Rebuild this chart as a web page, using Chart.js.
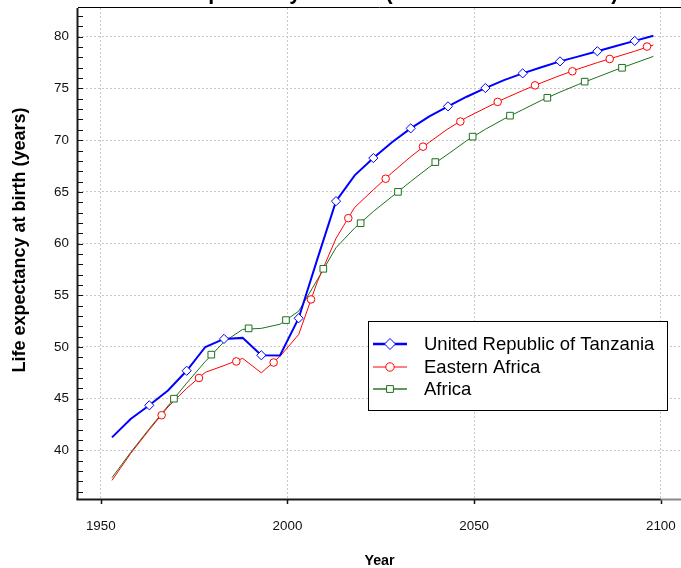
<!DOCTYPE html>
<html>
<head>
<meta charset="utf-8">
<title>Life expectancy at birth</title>
<script src="https://cdn.jsdelivr.net/npm/chart.js@4.4.0/dist/chart.umd.min.js"></script>
<style>
  html, body { margin: 0; padding: 0; background: #fff; }
</style>
</head>
<body>
<canvas id="myChart" width="681" height="568"></canvas>
<script>
// values, one point every 5 years
const years = [1953, 1958, 1963, 1968, 1973, 1978, 1983, 1988, 1993, 1998,
               2003, 2008, 2013, 2018, 2023, 2028, 2033, 2038, 2043, 2048,
               2053, 2058, 2063, 2068, 2073, 2078, 2083, 2088, 2093, 2098];
const tanzania = [41.26, 43.04, 44.36, 45.8, 47.7, 50.0, 50.78, 50.88, 49.2, 49.17,
                  52.78, 58.5, 64.1, 66.6, 68.27, 69.8, 71.14, 72.3, 73.27, 74.2,
                  75.04, 75.8, 76.46, 77.05, 77.62, 78.1, 78.6, 79.1, 79.6, 80.1];
const easternAfrica = [37.1, 39.7, 42.0, 44.2, 46.0, 47.55, 48.2, 48.9, 47.5, 49.1,
                       51.2, 56.3, 60.5, 63.5, 65.2, 66.85, 68.4, 69.8, 71.1, 72.2,
                       73.1, 74.0, 74.8, 75.55, 76.25, 76.9, 77.5, 78.05, 78.6, 79.2];
const africa = [37.36, 39.8, 42.1, 44.3, 46.5, 48.6, 50.5, 51.7, 51.8, 52.2,
                53.46, 56.5, 59.6, 61.5, 63.1, 64.55, 66.0, 67.4, 68.65, 69.95,
                71.05, 72.05, 72.95, 73.85, 74.65, 75.4, 76.1, 76.8, 77.45, 78.1];

// the markers sit at their own (staggered) places on the lines
const tanzaniaMarkYears = [1963, 1973, 1983, 1993, 2003, 2013, 2023, 2033, 2043, 2053, 2063, 2073, 2083, 2093];
const tanzaniaMarks = [44.36, 47.7, 50.78, 49.2, 52.78, 64.1, 68.27, 71.14, 73.27, 75.04, 76.46, 77.62, 78.6, 79.6];
const easternMarkYears = [1966.3, 1976.3, 1986.3, 1996.3, 2006.3, 2016.3, 2026.3, 2036.3, 2046.3, 2056.3, 2066.3, 2076.3, 2086.3, 2096.3];
const easternMarks = [43.4, 47.0, 48.6, 48.5, 54.6, 62.46, 66.27, 69.37, 71.8, 73.7, 75.3, 76.66, 77.85, 79.05];
const africaMarkYears = [1969.6, 1979.6, 1989.6, 1999.6, 2009.6, 2019.6, 2029.6, 2039.6, 2049.6, 2059.6, 2069.6, 2079.6, 2089.6];
const africaMarks = [45.0, 49.26, 51.8, 52.6, 57.56, 61.97, 65.0, 67.88, 70.34, 72.37, 74.1, 75.66, 77.0];

const names = ['United Republic of Tanzania', 'Eastern Africa', 'Africa'];
const xTicks = [1950, 2000, 2050, 2100];
const yTicks = [40, 45, 50, 55, 60, 65, 70, 75, 80];
const chartTitle = 'Life expectancy at birth (both sexes combined)';
const xTitle = 'Year';
const yTitle = 'Life expectancy at birth (years)';

const FONT = "'Liberation Sans', Arial, sans-serif";
const BLUE = '#0000ff', RED = '#ff0000', GREEN = '#1d701d';

function pts(xs, ys) {
  return xs.map((x, i) => ({ x: x, y: ys[i] }));
}

// legend styles, same order as names
const legendStyle = [
  { color: BLUE, line: BLUE, width: 2.5, style: 'rectRot', r: 5.5 },
  { color: RED, line: RED, width: 1, style: 'circle', r: 4.2 },
  { color: GREEN, line: '#5d9a5d', width: 2, style: 'rect', r: 4.8 }
];

const decorations = {
  id: 'decorations',
  afterDraw(chart) {
    const ctx = chart.ctx;
    const a = chart.chartArea;
    const xs = chart.scales.x, ys = chart.scales.y;
    ctx.save();

    // minor / major ticks on y, pointing inwards
    ctx.strokeStyle = '#111';
    ctx.lineWidth = 1;
    for (let v = 36; v <= 82; v++) {
      const y = Math.round(ys.getPixelForValue(v)) + 0.5;
      ctx.beginPath(); ctx.moveTo(a.left, y); ctx.lineTo(a.left + 5, y); ctx.stroke();
    }
    // x ticks, pointing down
    ctx.lineWidth = 1.5;
    xTicks.forEach(v => {
      const x = Math.round(xs.getPixelForValue(v)) + 0.5;
      ctx.beginPath(); ctx.moveTo(x, a.bottom); ctx.lineTo(x, a.bottom + 5); ctx.stroke();
    });

    // axis lines and top border
    ctx.strokeStyle = '#1a1a1a';
    ctx.lineWidth = 2;
    ctx.beginPath(); ctx.moveTo(a.left - 0.5, a.top); ctx.lineTo(a.left - 0.5, a.bottom + 1); ctx.stroke();
    const x2100 = xs.getPixelForValue(2100);
    ctx.beginPath(); ctx.moveTo(a.left - 1.5, a.bottom + 0.5); ctx.lineTo(x2100, a.bottom + 0.5); ctx.stroke();
    ctx.strokeStyle = '#888';
    ctx.beginPath(); ctx.moveTo(x2100, a.bottom + 0.5); ctx.lineTo(a.right, a.bottom + 0.5); ctx.stroke();
    ctx.strokeStyle = '#000';
    ctx.lineWidth = 1;
    ctx.beginPath(); ctx.moveTo(a.left, a.top - 0.5); ctx.lineTo(a.right, a.top - 0.5); ctx.stroke();

    // titles
    ctx.fillStyle = '#000';
    ctx.textAlign = 'center';
    ctx.textBaseline = 'alphabetic';
    ctx.font = 'bold 21.4px ' + FONT;
    ctx.fillText(chartTitle, (a.left + a.right) / 2, -1.5);
    ctx.font = 'bold 14.3px ' + FONT;
    ctx.textBaseline = 'middle';
    ctx.fillText(xTitle, (a.left + a.right) / 2, 561);
    ctx.save();
    ctx.translate(25, 240);
    ctx.rotate(-Math.PI / 2);
    ctx.textBaseline = 'alphabetic';
    ctx.font = 'bold 18px ' + FONT;
    ctx.fillText(yTitle, 0, 0);
    ctx.restore();

    // legend box
    const bx = 368.5, by = 321.5, bw = 299, bh = 89;
    ctx.fillStyle = '#fff';
    ctx.fillRect(bx, by, bw, bh);
    ctx.strokeStyle = '#000';
    ctx.lineWidth = 1;
    ctx.strokeRect(bx, by, bw, bh);
    const rowY = [344, 367, 389];
    names.forEach((name, i) => {
      const s = legendStyle[i];
      ctx.strokeStyle = s.line;
      ctx.lineWidth = s.width;
      ctx.beginPath(); ctx.moveTo(373, rowY[i]); ctx.lineTo(407, rowY[i]); ctx.stroke();
      ctx.fillStyle = '#fff';
      ctx.strokeStyle = s.color;
      ctx.lineWidth = 1;
      Chart.helpers.drawPoint(ctx, { pointStyle: s.style, radius: s.r, rotation: 0, borderWidth: 1 }, 390, rowY[i]);
      ctx.fillStyle = '#000';
      ctx.font = '18.5px ' + FONT;
      ctx.textAlign = 'left';
      ctx.textBaseline = 'middle';
      ctx.fillText(name, 424, rowY[i] + 1);
    });
    ctx.restore();
  }
};

const lineBase = { pointRadius: 0, tension: 0, fill: false };
const markBase = { showLine: false, pointBackgroundColor: '#fff', pointBorderWidth: 1 };

const chart = new Chart(document.getElementById('myChart').getContext('2d'), {
  type: 'line',
  data: {
    datasets: [
      Object.assign({ label: names[0] + ' markers', data: pts(tanzaniaMarkYears, tanzaniaMarks),
        pointStyle: 'rectRot', pointRadius: 4.6, pointBorderColor: BLUE, borderColor: BLUE }, markBase),
      Object.assign({ label: names[1] + ' markers', data: pts(easternMarkYears, easternMarks),
        pointStyle: 'circle', pointRadius: 3.8, pointBorderColor: RED, borderColor: RED }, markBase),
      Object.assign({ label: names[2] + ' markers', data: pts(africaMarkYears, africaMarks),
        pointStyle: 'rect', pointRadius: 4.7, pointBorderColor: GREEN, borderColor: GREEN }, markBase),
      Object.assign({ label: names[0], data: pts(years, tanzania), borderColor: BLUE, borderWidth: 2 }, lineBase),
      Object.assign({ label: names[1], data: pts(years, easternAfrica), borderColor: RED, borderWidth: 1 }, lineBase),
      Object.assign({ label: names[2], data: pts(years, africa), borderColor: GREEN, borderWidth: 1 }, lineBase)
    ]
  },
  options: {
    responsive: false,
    animation: false,
    layout: { autoPadding: false, padding: { top: 8, left: 0, right: 0, bottom: 0 } },
    plugins: { legend: { display: false }, tooltip: { enabled: false }, title: { display: false } },
    scales: {
      x: {
        type: 'linear', min: 1943.9, max: 2105.4,
        afterBuildTicks: s => { s.ticks = xTicks.map(v => ({ value: v })); },
        afterFit: s => { s.height = 69; s.paddingLeft = 0; s.paddingRight = 0; },
        grid: { color: '#c8c8c8', lineWidth: 1, drawTicks: false },
        border: { display: false, dash: [2, 2] },
        ticks: { padding: 19, color: '#111', font: { family: FONT, size: 13.4 }, maxRotation: 0, autoSkip: false,
                 callback: v => String(v) }
      },
      y: {
        type: 'linear', min: 35.3, max: 82.78,
        afterBuildTicks: s => { s.ticks = yTicks.map(v => ({ value: v })); },
        afterFit: s => { s.width = 78; s.paddingTop = 0; s.paddingBottom = 0; },
        grid: { color: '#c8c8c8', lineWidth: 1, drawTicks: false },
        border: { display: false, dash: [2, 2] },
        ticks: { padding: 9, color: '#111', font: { family: FONT, size: 13.4 }, autoSkip: false,
                 callback: v => String(v) }
      }
    }
  },
  plugins: [decorations]
});
</script>
</body>
</html>
